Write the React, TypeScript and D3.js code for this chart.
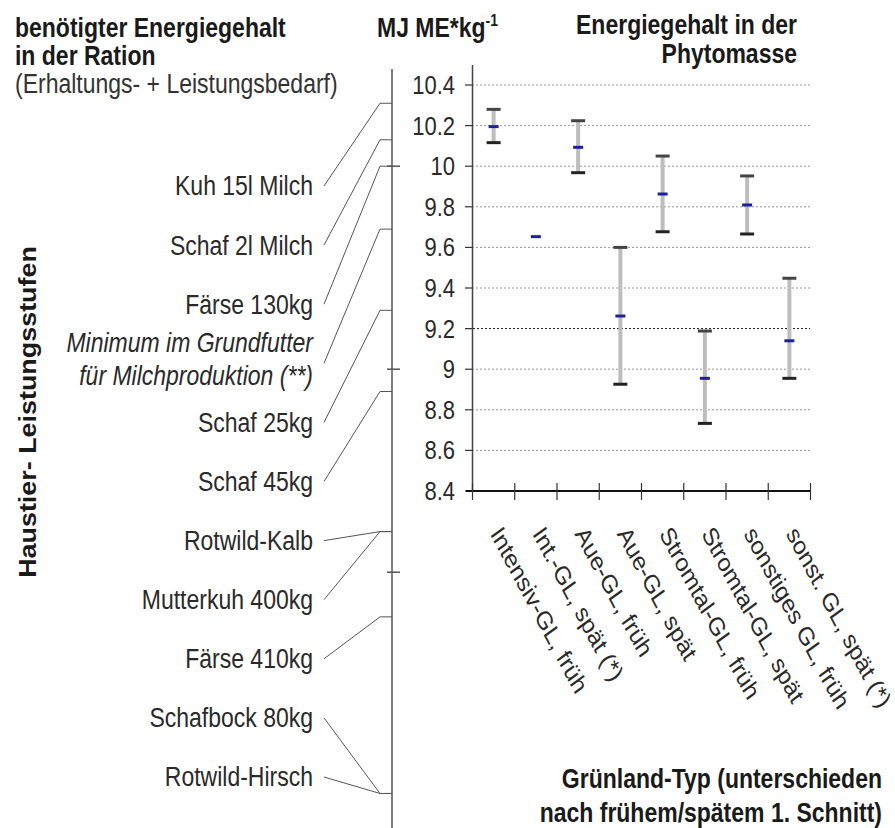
import React from "react";
import * as d3 from "d3";

// Grünland-Typen (x-Achse)
const categories = [
  "Intensiv-GL, früh",
  "Int.-GL, spät (*)",
  "Aue-GL, früh",
  "Aue-GL, spät",
  "Stromtal-GL, früh",
  "Stromtal-GL, spät",
  "sonstiges GL, früh",
  "sonst. GL, spät (*)",
];
// Energiegehalt MJ ME/kg: Mittelwert, Maximum, Minimum
const meanValues = [10.195, 9.653, 10.093, 9.262, 9.863, 8.955, 9.809, 9.14];
const maxValues = [10.28, null, 10.224, 9.6, 10.05, 9.188, 9.952, 9.448];
const minValues = [10.116, null, 9.968, 8.926, 9.677, 8.733, 9.666, 8.955];

const yTicks = [8.4, 8.6, 8.8, 9, 9.2, 9.4, 9.6, 9.8, 10, 10.2, 10.4];
const yTickLabels = ["8.4", "8.6", "8.8", "9", "9.2", "9.4", "9.6", "9.8", "10", "10.2", "10.4"];

// Bedarf der Haustiere (linke Skala)
const animals = [
  "Kuh 15l Milch",
  "Schaf 2l Milch",
  "Färse 130kg",
  "Minimum im Grundfutter\nfür Milchproduktion (**)",
  "Schaf 25kg",
  "Schaf 45kg",
  "Rotwild-Kalb",
  "Mutterkuh 400kg",
  "Färse 410kg",
  "Schafbock 80kg",
  "Rotwild-Hirsch",
];
const animalEnergy = [10.31, 10.13, 10.0, 9.69, 9.29, 8.89, 8.2, 8.2, 7.78, 6.91, 6.91];
const scaleMarks = [10, 9, 8];

// the picture is stretched vertically, so everything is drawn in a squeezed frame
const SY = 1.17;
const u = (v: number) => v / SY;

export default function App() {
  const font = "'Liberation Sans', Arial, sans-serif";

  const x = d3.scaleBand<string>().domain(categories).range([472.5, 810.5]);
  const y = d3.scaleLinear().domain([8.4, 10.4]).range([u(491), u(85)]);
  const slot = d3.scalePoint<string>().domain(animals).range([u(186), u(777)]);
  const line = d3.line();

  const ns = { vectorEffect: "non-scaling-stroke" } as any;

  return (
    <svg
      width={895}
      height={828}
      style={{ position: "absolute", left: 0, top: 0, background: "#fff" }}
      fontFamily={font}
    >
      <g transform={`scale(1,${SY})`}>
        {/* Titel links oben */}
        <text x={15} y={u(37)} fontSize={23} fontWeight="bold" fill="#1a1a1a">
          benötigter Energiegehalt
        </text>
        <text x={15} y={u(65)} fontSize={23} fontWeight="bold" fill="#1a1a1a">
          in der Ration
        </text>
        <text x={15} y={u(93)} fontSize={23} fill="#333">
          (Erhaltungs- + Leistungsbedarf)
        </text>

        {/* Einheit */}
        <text x={377} y={u(37)} fontSize={23} fontWeight="bold" fill="#1a1a1a">
          MJ ME*kg
          <tspan fontSize={14} dy={-9}>
            -1
          </tspan>
        </text>

        {/* Titel rechts oben */}
        <text x={797} y={u(34)} fontSize={23} fontWeight="bold" fill="#1a1a1a" textAnchor="end">
          Energiegehalt in der
        </text>
        <text x={797} y={u(63)} fontSize={23} fontWeight="bold" fill="#1a1a1a" textAnchor="end">
          Phytomasse
        </text>

        {/* Achsentitel links, gedreht */}
        <text
          transform={`translate(36,${u(412)}) rotate(-90)`}
          fontSize={23}
          fontWeight="bold"
          fill="#1a1a1a"
          textAnchor="middle"
        >
          Haustier- Leistungsstufen
        </text>

        {/* linke Bedarfs-Skala */}
        <line x1={392} x2={392} y1={u(69)} y2={u(828)} stroke="#555" strokeWidth={1.5} style={ns} />
        {scaleMarks.map((v) => (
          <line key={v} x1={387} x2={400} y1={y(v)} y2={y(v)} stroke="#555" strokeWidth={1.5} style={ns} />
        ))}
        {animals.map((a, i) => {
          const cy = slot(a)!;
          const lines = a.split("\n");
          const italic = lines.length > 1;
          return (
            <g key={a}>
              {lines.map((t, j) => (
                <text
                  key={t}
                  x={313}
                  y={italic ? cy + u(j === 0 ? -21 : 12) : cy}
                  dy="0.35em"
                  fontSize={23}
                  fontStyle={italic ? "italic" : "normal"}
                  textAnchor="end"
                  fill="#2a2a2a"
                >
                  {t}
                </text>
              ))}
              <path
                d={line([
                  [324, cy],
                  [380, y(animalEnergy[i])],
                  [392, y(animalEnergy[i])],
                ])!}
                fill="none"
                stroke="#555"
                strokeWidth={1}
                style={ns}
              />
            </g>
          );
        })}

        {/* Gitterlinien */}
        {yTicks.map((v, i) => (
          <g key={v}>
            {i > 0 && (
              <line
                x1={v === 9.2 ? 465 : 472}
                x2={810}
                y1={y(v)}
                y2={y(v)}
                stroke={v === 9.2 ? "#111" : "#999"}
                strokeWidth={1}
                strokeDasharray="2,2"
                style={ns}
              />
            )}
            <line x1={465} x2={472} y1={y(v)} y2={y(v)} stroke="#333" strokeWidth={1.2} style={ns} />
            <text x={455} y={y(v)} dy="0.35em" fontSize={22} textAnchor="end" fill="#2a2a2a">
              {yTickLabels[i]}
            </text>
          </g>
        ))}

        {/* Achsen */}
        <line x1={472.5} x2={472.5} y1={u(65)} y2={y(8.4)} stroke="#444" strokeWidth={1.5} style={ns} />
        <line x1={466} x2={811} y1={y(8.4)} y2={y(8.4)} stroke="#111" strokeWidth={2} style={ns} />
        {[...categories.map((c) => x(c)!), x.range()[1]].map((bx, i) => (
          <line key={i} x1={bx} x2={bx} y1={u(483)} y2={u(500)} stroke="#333" strokeWidth={1.2} style={ns} />
        ))}

        {/* Spannweiten */}
        {categories.map((c, i) => {
          const cx = x(c)! + x.bandwidth() / 2;
          const hi = maxValues[i];
          const lo = minValues[i];
          return (
            <g key={c}>
              {hi != null && lo != null && (
                <>
                  <line x1={cx} x2={cx} y1={y(hi)} y2={y(lo)} stroke="#bdbdbd" strokeWidth={4} style={ns} />
                  <line x1={cx - 7} x2={cx + 7} y1={y(hi)} y2={y(hi)} stroke="#444" strokeWidth={3} style={ns} />
                  <line x1={cx - 7} x2={cx + 7} y1={y(lo)} y2={y(lo)} stroke="#222" strokeWidth={3} style={ns} />
                </>
              )}
              <line
                x1={cx - 5}
                x2={cx + 5}
                y1={y(meanValues[i])}
                y2={y(meanValues[i])}
                stroke="#1f1f9e"
                strokeWidth={3}
                style={ns}
              />
            </g>
          );
        })}

        {/* Kategorie-Beschriftungen */}
        {categories.map((c) => {
          const cx = x(c)! + x.bandwidth() / 2;
          return (
            <text
              key={c}
              transform={`translate(${cx - 4},${u(534)}) rotate(58)`}
              fontSize={22}
              fill="#2a2a2a"
            >
              {c}
            </text>
          );
        })}

        {/* Titel unten rechts */}
        <text x={882} y={u(788)} fontSize={23} fontWeight="bold" fill="#1a1a1a" textAnchor="end">
          Grünland-Typ (unterschieden
        </text>
        <text x={882} y={u(822)} fontSize={23} fontWeight="bold" fill="#1a1a1a" textAnchor="end">
          nach frühem/spätem 1. Schnitt)
        </text>
      </g>
    </svg>
  );
}
